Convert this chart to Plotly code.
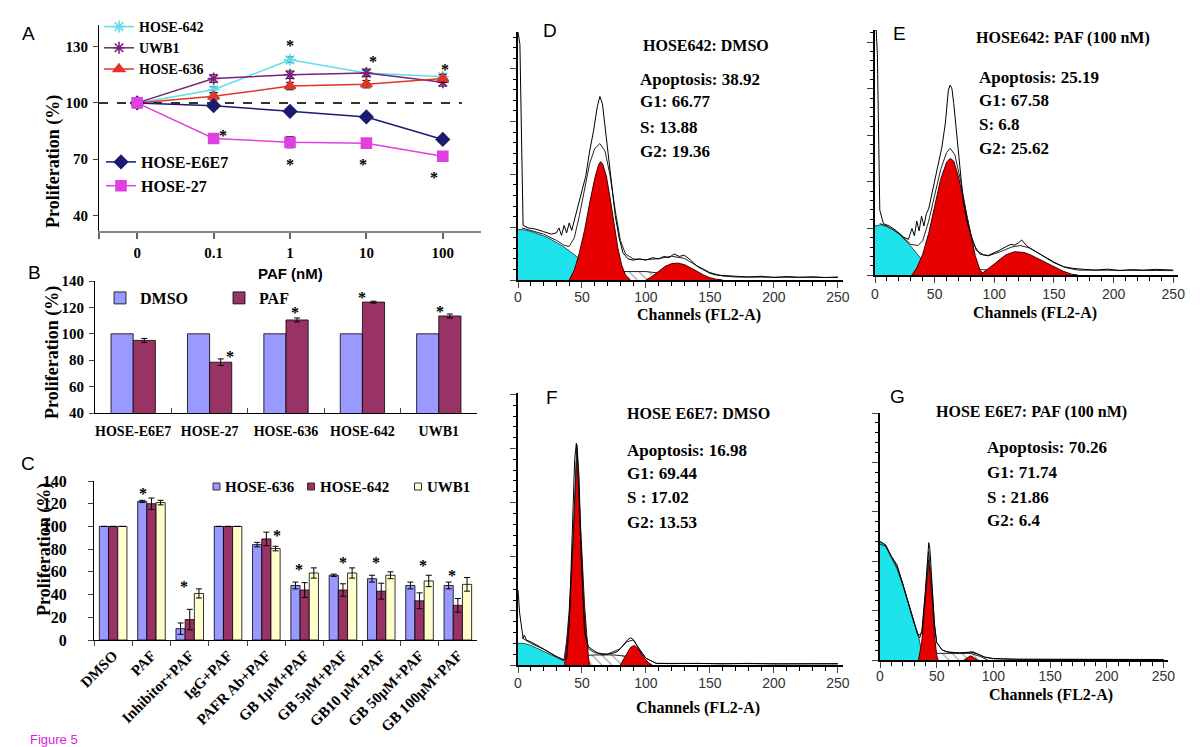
import plotly.graph_objects as go

# page body has an 8px margin: size the figure so it fits the 1200x747 window exactly
OFF = 8
FW, FH = 1200 - OFF, 747 - OFF
def px(x): return (x - OFF) / FW
def py(y): return 1 - (y - OFF) / FH

SERIF = "Liberation Serif"
SANS = "Liberation Sans"
BLUE, PLUM, CREAM = "#9999FF", "#993366", "#FFFFCC"
CYAN, RED = "#1EE3EA", "#E60000"

# ---------------- Panel A : proliferation vs PAF dose ----------------
a_doses = ["0", "0.1", "1", "10", "100"]
a_hose642 = [100, 107, 123, 116, 114]
a_hose642_err = [0, 1.5, 1.5, 1.5, 1.5]
a_uwb1 = [100, 113, 115, 116, 111]
a_uwb1_err = [0, 2, 2, 2, 2]
a_hose636 = [100, 103.5, 109, 110, 113]
a_hose636_err = [0, 2, 2, 2, 2]
a_e6e7 = [100, 98.5, 95.5, 92.5, 80.5]
a_e6e7_err = [0, 1.5, 1.5, 1.5, 1.5]
a_hose27 = [100, 81, 79, 78.5, 71.5]
a_hose27_err = [0, 2.5, 3, 2.5, 2.5]
a_star_x = [2, 3.08, 4.03, 1.12, 2, 2.95, 3.88]
a_star_y = [133, 124, 120, 85, 69.5, 69.5, 62.5]

# ---------------- Panel B : DMSO vs PAF ----------------
b_lines = ["HOSE-E6E7", "HOSE-27", "HOSE-636", "HOSE-642", "UWB1"]
b_dmso = [100, 100, 100, 100, 100]
b_paf = [95, 78.5, 110.5, 124, 113.5]
b_paf_err = [1.5, 2.5, 1.5, 0.7, 1.5]
b_star_x = [1.27, 2.12, 3.0, 4.02]
b_star_y = [85.8, 119, 130.5, 120]

# ---------------- Panel C : inhibitors ----------------
c_treat = ["DMSO", "PAF", "Inhibitor+PAF", "IgG+PAF", "PAFR Ab+PAF", "GB 1μM+PAF",
           "GB 5μM+PAF", "GB10 μM+PAF", "GB 50μM+PAF", "GB 100μM+PAF"]
c_series = ["HOSE-636", "HOSE-642", "UWB1"]
c_hose636 = [100, 122, 10, 100, 84, 48, 57, 54, 48, 48]
c_hose636_err = [0, 1, 5, 0, 2, 3, 1, 3, 3, 3]
c_hose642 = [100, 120, 18, 100, 89, 44, 44, 43, 34.5, 30.5]
c_hose642_err = [0, 5, 9, 0, 6, 6.5, 5.5, 7, 7, 6]
c_uwb1 = [100, 121, 41, 100, 80.5, 59, 59, 57, 52, 49]
c_uwb1_err = [0, 2, 4, 0, 2, 4.5, 4.5, 3, 5, 6]
c_star_x = [0.78, 1.85, 4.28, 4.85, 6.0, 6.86, 8.09, 8.85]
c_star_y = [132.6, 50.4, 95.5, 65.4, 71.6, 71.6, 69, 60]

# ---------------- Flow cytometry histograms (channel, relative count) ----------------
d_raw_ch = [0, 1.5, 3, 4, 8, 14, 20, 26, 30, 32, 34, 36, 38, 40, 42, 44, 46, 50, 53, 56, 59, 62, 64, 66, 68, 70,
            73, 76, 79, 82, 86, 90, 95, 100, 105, 110, 114, 118, 122, 126, 130, 135, 140, 145, 150, 155, 160,
            170, 180, 190, 200, 210, 220, 230, 240, 250]
d_raw = [100, 95, 50, 22, 21, 20.5, 19.5, 18.5, 19, 21, 18, 22, 19, 23, 20, 24, 27, 35, 42, 52, 60, 70, 74, 71,
         62, 52, 38, 26, 17, 11, 8.5, 8, 8.5, 8, 9, 8.5, 9.5, 9, 10.5, 9.5, 10, 8, 5.5, 4, 2.7, 2, 1.8, 1.5, 1.2,
         1.5, 1.0, 1.4, 1.1, 1.3, 1.0, 1.2]
d_fit_ch = [3, 10, 20, 30, 36, 40, 44, 48, 52, 56, 60, 64, 68, 72, 76, 80, 84, 90, 100, 110, 120, 130, 140, 150,
            160, 170, 250]
d_fit = [21, 20, 18.5, 16, 14, 13.5, 17, 26, 37, 47, 53, 55, 52, 42, 28, 16, 10.5, 8.5, 8.2, 8.6, 9.6, 8.7, 5.7,
         3, 1.6, 1.2, 1.0]
d_apo_ch = [0, 5, 10, 15, 20, 25, 30, 35, 40, 45, 50, 55, 60, 65, 70, 75]
d_apo = [20.4, 20.2, 19.6, 18.8, 17.8, 16.6, 15.2, 13.6, 11.8, 9.9, 7.9, 5.8, 3.8, 2, 0.7, 0]
d_g1_ch = [40, 44, 48, 52, 56, 60, 63, 64.5, 66, 69, 72, 75, 78, 81, 84, 88]
d_g1 = [0, 4, 11, 20, 31, 41, 46.5, 47.7, 47, 42, 33, 23, 13, 6, 2, 0]
d_s_ch = [55, 60, 70, 100, 110, 120, 130]
d_s = [0, 2.5, 3.4, 3.4, 2.8, 1.5, 0]
d_g2_ch = [100, 105, 110, 115, 120, 125, 130, 135, 140, 145, 150, 155, 160]
d_g2 = [0, 1.5, 3.5, 5.5, 6.6, 6.8, 6.2, 5, 3.5, 2, 0.9, 0.3, 0]

e_raw_ch = [0, 1, 2, 3, 4, 7, 12, 18, 24, 28, 31, 33, 35, 37, 39, 41, 43, 45, 48, 52, 56, 59, 61.5, 63, 64.5, 66,
            68, 70, 72, 74, 77, 80, 85, 91, 95, 99, 104, 110, 114, 117, 120, 123, 127, 130, 137, 144, 151, 158,
            166, 175, 185, 195, 205, 215, 225, 235, 245, 250]
e_raw = [100, 100, 90, 55, 26.5, 21, 20, 18, 15.5, 14.5, 19, 16, 22, 18, 24, 20, 25, 27, 34, 44, 52, 62, 75.5,
         77.5, 76, 70, 60, 50, 38, 30, 22, 17, 10, 8.2, 8, 8.8, 10, 11.6, 12.5, 12.2, 13, 14.3, 12, 10.9, 9, 6.8,
         5, 3.4, 2.7, 2.3, 2, 2.4, 1.8, 2.2, 2, 2.3, 1.9, 2]
e_fit_ch = [4, 10, 20, 30, 36, 40, 45, 50, 55, 60, 63, 67, 72, 77, 82, 88, 95, 105, 115, 122, 130, 140, 150, 160,
            170, 250]
e_fit = [21, 20, 17, 12.5, 12, 14, 22, 32, 43, 50, 51.7, 49, 38, 24, 13, 8.5, 7.8, 9.5, 11.5, 12, 11, 8, 5, 3, 2,
         1.8]
e_apo_ch = [0, 5, 10, 15, 20, 25, 30, 35, 40, 45, 50, 55]
e_apo = [20, 20.5, 19.7, 18.5, 16.8, 14.5, 11.8, 8.8, 5.8, 3, 1, 0]
e_g1_ch = [31, 35, 40, 45, 50, 55, 60, 63, 66, 70, 75, 80, 84, 88, 92]
e_g1 = [0, 3, 8.5, 17, 28, 39, 46, 47.6, 46.5, 40, 29, 17, 8, 2, 0]
e_s_ch = [58, 65, 75, 90, 105, 120, 125]
e_s = [0, 1.5, 2.2, 2.2, 1.5, 0.5, 0]
e_g2_ch = [88, 95, 100, 105, 110, 117, 125, 130, 140, 150, 158, 165, 170]
e_g2 = [0, 2.5, 4.5, 6.5, 8.3, 9.5, 9.2, 8.3, 5.8, 3.2, 1.5, 0.3, 0]

f_raw_ch = [0, 1.3, 4, 5, 6.5, 10, 17, 24, 30, 35, 38, 40, 41.7, 43, 44.3, 45.6, 46.5, 47.7, 49.5, 52, 55, 58.6,
            62, 66, 70, 74, 78, 81, 84, 86, 88, 90, 92, 95, 100, 108, 120, 140, 160, 180, 200, 220, 240, 250]
f_raw = [27.6, 19, 9.8, 11, 9.2, 8.5, 6.7, 4.8, 3, 1.8, 2.2, 15, 38.6, 60, 75.5, 81.6, 78, 69, 38.6, 11.7, 6.7,
         5.5, 4.5, 3.7, 4, 4.3, 5, 6.7, 8.5, 9.4, 10, 9.4, 8, 5.5, 2.5, 0.6, 0.5, 0.6, 0.4, 0.6, 0.4, 0.5, 0.4, 0.5]
f_fit_ch = [3, 10, 20, 30, 36, 40, 43, 46, 49, 52, 55, 60, 70, 80, 85, 90, 95, 100, 108, 250]
f_fit = [10, 8, 5.8, 3, 2, 15, 45, 79, 45, 15, 6, 4.5, 4, 6, 8.5, 9.2, 5.8, 2.5, 0.6, 0.4]
f_apo_ch = [0, 5, 10, 15, 20, 25, 30, 35, 38, 40]
f_apo = [8, 7.9, 7.2, 6.2, 5, 3.9, 2.8, 1.8, 1, 0]
f_g1_ch = [36.5, 40, 43, 46, 49, 52, 55, 56]
f_g1 = [0, 20, 45, 81, 50, 22, 3, 0]
f_s_ch = [48, 52, 60, 75, 85, 95, 100]
f_s = [0, 3.5, 3.7, 3.7, 3.2, 1.5, 0]
f_g2_ch = [80, 84, 88, 91, 94, 98, 102, 105]
f_g2 = [0, 3.5, 6.5, 7.2, 6, 3, 0.8, 0]

g_raw_ch = [0, 5, 10, 15, 20, 25, 30, 33, 35, 37, 40, 42, 43, 44, 46, 48, 50, 55, 60, 70, 78, 82, 86, 92, 100,
            120, 150, 200, 250]
g_raw = [48, 46.5, 42, 38.5, 31, 23, 15.5, 10.5, 9, 12, 28, 44, 47.5, 45, 30, 15, 7, 4, 3.2, 2.8, 3, 3.3, 2.5,
         1.2, 0.6, 0.3, 0.25, 0.2, 0.2]
g_fit_ch = [0, 5, 10, 15, 20, 25, 30, 34, 37, 40, 43, 46, 48, 50, 55, 60, 70, 80, 86, 92, 100, 120, 250]
g_fit = [47, 46, 41.5, 37, 30.5, 22.5, 15, 10, 11, 26, 44, 28, 14, 7, 4, 3.2, 2.9, 3.2, 2.4, 1.2, 0.5, 0.3, 0.2]
g_apo_ch = [0, 5, 10, 15, 20, 25, 30, 34, 36, 38]
g_apo = [48, 46.6, 42, 37.8, 31, 23, 14.9, 9.5, 5, 0]
g_g1_ch = [34, 37, 40, 43, 46, 48, 50, 51]
g_g1 = [0, 8, 25, 40.5, 25, 10, 2, 0]
g_s_ch = [42, 48, 60, 80, 88, 95]
g_s = [0, 2.7, 2.7, 2.7, 1.5, 0]
g_g2_ch = [74, 80, 86]
g_g2 = [0, 1.7, 0]

flow_titles = ["HOSE642: DMSO", "HOSE642: PAF (100 nM)", "HOSE E6E7: DMSO", "HOSE E6E7: PAF (100 nM)"]
flow_apoptosis = ["38.92", "25.19", "16.98", "70.26"]
flow_g1 = ["66.77", "67.58", "69.44", "71.74"]
flow_s = ["S: 13.88", "S: 6.8", "S : 17.02", "S : 21.86"]
flow_g2 = ["19.36", "25.62", "13.53", "6.4"]

# ---------------- figure ----------------
fig = go.Figure()

def ebar(arr, width=4):
    return dict(type="data", array=arr, visible=True, color="black", thickness=1, width=width)

xa = list(range(len(a_doses)))
series_a = [
    ("HOSE-642", a_hose642, a_hose642_err, "#5FDDEE", "asterisk-open", "legend"),
    ("UWB1", a_uwb1, a_uwb1_err, "#7A1F7A", "asterisk-open", "legend"),
    ("HOSE-636", a_hose636, a_hose636_err, "#E0352B", "triangle-up", "legend"),
    ("HOSE-E6E7", a_e6e7, a_e6e7_err, "#1B1B70", "diamond", "legend2"),
    ("HOSE-27", a_hose27, a_hose27_err, "#E040E0", "square", "legend2"),
]
for name, vals, e, col, sym, leg in series_a:
    fig.add_trace(go.Scatter(
        x=xa, y=vals, error_y=ebar(e), mode="lines+markers", name=name,
        line=dict(color=col, width=1.5),
        marker=dict(symbol=sym, color=col, size=10, line=dict(color=col, width=1.6)),
        xaxis="x", yaxis="y", legend=leg, legendgroup=name))

# Panel B
fig.add_trace(go.Bar(x=b_lines, y=b_dmso, name="DMSO", width=0.29, offset=-0.29,
                     marker=dict(color=BLUE, line=dict(color="black", width=0.8)),
                     xaxis="x2", yaxis="y2", legend="legend3"))
fig.add_trace(go.Bar(x=b_lines, y=b_paf, name="PAF", width=0.29, offset=0.0, error_y=ebar(b_paf_err, 3),
                     marker=dict(color=PLUM, line=dict(color="black", width=0.8)),
                     xaxis="x2", yaxis="y2", legend="legend3"))

# Panel C
c_colors = [BLUE, PLUM, CREAM]
for name, vals, e, col, off in zip(c_series, [c_hose636, c_hose642, c_uwb1],
                                   [c_hose636_err, c_hose642_err, c_uwb1_err], c_colors, [-0.36, -0.12, 0.12]):
    fig.add_trace(go.Bar(x=c_treat, y=vals, name=name, width=0.24, offset=off, error_y=ebar(e, 3),
                         marker=dict(color=col, line=dict(color="black", width=0.8)),
                         xaxis="x3", yaxis="y3", showlegend=False))

# Flow panels
flows = [
    (d_raw_ch, d_raw, d_fit_ch, d_fit, d_apo_ch, d_apo, d_g1_ch, d_g1, d_s_ch, d_s, d_g2_ch, d_g2),
    (e_raw_ch, e_raw, e_fit_ch, e_fit, e_apo_ch, e_apo, e_g1_ch, e_g1, e_s_ch, e_s, e_g2_ch, e_g2),
    (f_raw_ch, f_raw, f_fit_ch, f_fit, f_apo_ch, f_apo, f_g1_ch, f_g1, f_s_ch, f_s, f_g2_ch, f_g2),
    (g_raw_ch, g_raw, g_fit_ch, g_fit, g_apo_ch, g_apo, g_g1_ch, g_g1, g_s_ch, g_s, g_g2_ch, g_g2),
]
for i, (rc, rv, fc, fv, ac, av, g1c, g1v, sc, sv, g2c, g2v) in enumerate(flows):
    xr, yr = f"x{i+4}", f"y{i+4}"
    common = dict(xaxis=xr, yaxis=yr, showlegend=False, mode="lines", hoverinfo="skip")
    fig.add_trace(go.Scatter(x=ac, y=av, fill="tozeroy", fillcolor=CYAN,
                             line=dict(color="#1F5A60", width=1), **common))
    fig.add_trace(go.Scatter(x=sc, y=sv, fill="tozeroy", fillcolor="white",
                             fillpattern=dict(shape="\\", fgcolor="#222", bgcolor="white", size=7, solidity=0.15),
                             line=dict(color="#222", width=1), **common))
    fig.add_trace(go.Scatter(x=g1c, y=g1v, fill="tozeroy", fillcolor=RED,
                             line=dict(color="#400000", width=1), **common))
    fig.add_trace(go.Scatter(x=g2c, y=g2v, fill="tozeroy", fillcolor=RED,
                             line=dict(color="#400000", width=1), **common))
    fig.add_trace(go.Scatter(x=fc, y=fv, line=dict(color="#222", width=1), **common))
    fig.add_trace(go.Scatter(x=rc, y=rv, line=dict(color="black", width=1), **common))

bold_serif = lambda s: dict(family=SERIF, size=s, color="black", weight="bold")

layout = dict(
    width=FW, height=FH, autosize=False, margin=dict(l=0, r=0, t=0, b=0, pad=0),
    paper_bgcolor="white", plot_bgcolor="white", barmode="group",
    font=dict(family=SERIF, color="black"),
)

# axes A
layout["xaxis"] = dict(domain=[px(99), px(481)], range=[-0.5, 4.5], anchor="y",
                       tickvals=[-0.5] + xa, ticktext=[""] + a_doses,
                       showline=True, linecolor="#888", linewidth=2, ticks="outside", ticklen=6,
                       tickcolor="#666", tickwidth=2, tickfont=bold_serif(15), showgrid=False,
                       zeroline=False, ticklabelstandoff=1)
layout["yaxis"] = dict(domain=[py(231), py(25)], range=[31.6, 141.6], anchor="x",
                       tickvals=[40, 70, 100, 130], showline=True, linecolor="black", linewidth=1,
                       ticks="outside", ticklen=5, tickfont=bold_serif(15), showgrid=False, zeroline=False,
                       ticklabelstandoff=2)
# axes B
layout["xaxis2"] = dict(domain=[px(95), px(477)], anchor="y2", type="category", tickson="boundaries",
                        ticks="inside", ticklen=5, showline=True, linecolor="black", linewidth=1,
                        tickangle=0, tickfont=bold_serif(14), showgrid=False, zeroline=False,
                        ticklabelstandoff=5)
layout["yaxis2"] = dict(domain=[py(413), py(281)], range=[40, 140], dtick=20, anchor="x2",
                        showline=True, linecolor="black", linewidth=1, ticks="outside", ticklen=5,
                        tickfont=bold_serif(15), showgrid=False, zeroline=False, ticklabelstandoff=2)
# axes C
layout["xaxis3"] = dict(domain=[px(94), px(477)], anchor="y3", type="category", tickson="boundaries",
                        ticks="outside", ticklen=5, showline=True, linecolor="black", linewidth=1,
                        tickangle=-45, tickfont=bold_serif(15), showgrid=False, zeroline=False)
layout["yaxis3"] = dict(domain=[py(640), py(481)], range=[0, 140], dtick=20, anchor="x3",
                        showline=True, linecolor="black", linewidth=1, ticks="outside", ticklen=5,
                        tickfont=bold_serif(16), showgrid=False, zeroline=False, ticklabelstandoff=18)

flow_dom = [((518, 843), (280, 32), 21.3, -3), ((875, 1178), (275, 30), 19.0, -1),
            ((518, 843), (665, 393), 19.9, -2), ((880, 1168), (660, 413), 20.0, -4)]
for i, ((x0, x1), (yb, yt), dt, so) in enumerate(flow_dom):
    n = i + 4
    layout[f"xaxis{n}"] = dict(domain=[px(x0), px(x1)], range=[0, 254], anchor=f"y{n}", dtick=50, tick0=0,
                               ticks="outside", ticklen=6, showline=True, linecolor="black", linewidth=1.5,
                               minor=dict(dtick=10, ticks="outside", ticklen=4, tickcolor="black"),
                               tickfont=dict(family=SANS, size=14, color="#333"), showgrid=False,
                               zeroline=False, ticklabelstandoff=so)
    layout[f"yaxis{n}"] = dict(domain=[py(yb), py(yt)], range=[0, 100], anchor=f"x{n}", dtick=dt, tick0=0,
                               ticks="outside", ticklen=6, showline=True, linecolor="black", linewidth=1.5,
                               minor=dict(dtick=dt / 5, ticks="outside", ticklen=3, tickcolor="black"),
                               showticklabels=False, showgrid=False, zeroline=False)

for k in list(layout):
    if k.startswith("xaxis") or k.startswith("yaxis"):
        layout[k]["automargin"] = False

layout["legend"] = dict(x=px(99), y=py(11), xanchor="left", yanchor="top", bgcolor="rgba(0,0,0,0)",
                        font=bold_serif(14), tracegroupgap=0, itemclick=False)
layout["legend2"] = dict(x=px(101), y=py(145), xanchor="left", yanchor="top", bgcolor="rgba(0,0,0,0)",
                         font=bold_serif(16), tracegroupgap=0, itemclick=False)
layout["legend3"] = dict(x=px(100), y=py(281), xanchor="left", yanchor="top", orientation="h",
                         entrywidth=74, entrywidthmode="pixels", bgcolor="rgba(0,0,0,0)",
                         font=bold_serif(16), itemclick=False)

ann = []
def text(x, y, s, font, xanchor="center", yanchor="middle", angle=0, ref=("paper", "paper"), yshift=0):
    ann.append(dict(x=x, y=y, text=s, font=font, xref=ref[0], yref=ref[1], showarrow=False,
                    xanchor=xanchor, yanchor=yanchor, textangle=angle, yshift=yshift))

letter = dict(family=SANS, size=19, color="black")
for lt, (lx, ly) in zip("ABCDEFG", [(28, 33), (34, 272), (28, 463), (550, 31), (899, 33), (552, 397), (897, 396)]):
    text(px(lx), py(ly), lt, letter)

for (yx, yy) in [(53, 162), (52, 353), (44, 550)]:
    text(px(yx), py(yy), "Proliferation (%)", bold_serif(18), angle=-90)
text(px(290), py(273), "PAF (nM)", dict(family=SANS, size=15, color="black", weight="bold"))

star_font = bold_serif(16)
for sx, sy in zip(a_star_x, a_star_y):
    text(sx, sy, "*", star_font, ref=("x", "y"), yshift=-4)
for sx, sy in zip(b_star_x, b_star_y):
    text(sx, sy, "*", star_font, ref=("x2", "y2"), yshift=-4)
for sx, sy in zip(c_star_x, c_star_y):
    text(sx, sy, "*", star_font, ref=("x3", "y3"), yshift=-4)

# panel C key (small squares followed by names, as in the original)
shapes = [dict(type="line", xref="x", yref="y", x0=-0.5, x1=4.25, y0=100, y1=100, layer="below",
               line=dict(color="#333", width=2, dash="dash"))]
key_sq = [216.5, 311, 418]
for name, col, kx in zip(c_series, c_colors, key_sq):
    shapes.append(dict(type="rect", xref="paper", yref="paper", x0=px(kx - 3.5), x1=px(kx + 3.5),
                       y0=py(490), y1=py(483), fillcolor=col, line=dict(color="#333", width=1)))
    text(px(kx + 6.5), py(486.5), name, bold_serif(15), xanchor="left")

title_pos = [(706, 45, "center"), (1063, 38, "center"), (625, 413, "left"), (934, 412, "left")]
stat_pos = [(638, [80, 102, 127, 152]), (977, [77, 100, 125, 148]),
            (625, [450, 473, 497, 522]), (985, [447, 472, 497, 520])]
chan_pos = [(699, 315), (1035, 313), (698, 708), (1051, 695)]
for i in range(4):
    tx, ty, ta = title_pos[i]
    text(px(tx), py(ty), flow_titles[i], bold_serif(16), xanchor=ta)
    sx, sys_ = stat_pos[i]
    lines = ["Apoptosis: " + flow_apoptosis[i], "G1: " + flow_g1[i], flow_s[i], "G2: " + flow_g2[i]]
    for ln, yy in zip(lines, sys_):
        text(px(sx), py(yy), ln, bold_serif(17), xanchor="left")
    cx, cy = chan_pos[i]
    text(px(cx), py(cy), "Channels (FL2-A)", bold_serif(16))

text(px(28), py(739), "Figure 5", dict(family=SANS, size=13, color="#E020E0"), xanchor="left")

layout["annotations"] = ann
layout["shapes"] = shapes

fig.update_layout(**layout)
fig.write_html("out.html")
